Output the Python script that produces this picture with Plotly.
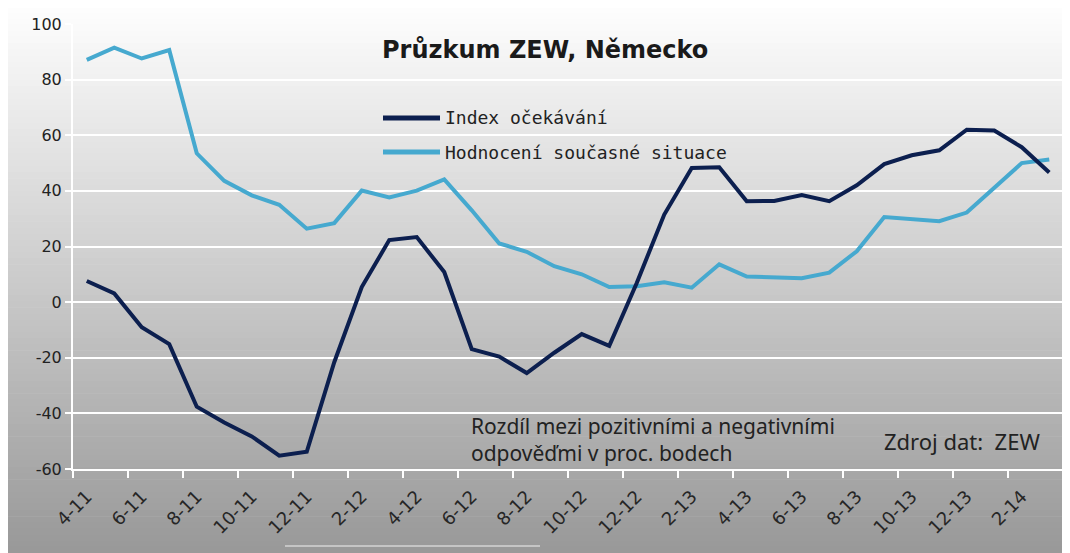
import plotly.graph_objects as go

# ---- data ----
months = ["4-11", "5-11", "6-11", "7-11", "8-11", "9-11", "10-11", "11-11", "12-11",
          "1-12", "2-12", "3-12", "4-12", "5-12", "6-12", "7-12", "8-12", "9-12",
          "10-12", "11-12", "12-12", "1-13", "2-13", "3-13", "4-13", "5-13", "6-13",
          "7-13", "8-13", "9-13", "10-13", "11-13", "12-13", "1-14", "2-14", "3-14"]

expectations = [7.6, 3.1, -9.0, -15.1, -37.6, -43.3, -48.3, -55.2, -53.8,
                -21.6, 5.4, 22.3, 23.4, 10.8, -16.9, -19.6, -25.5, -18.2,
                -11.5, -15.7, 6.9, 31.5, 48.2, 48.5, 36.3, 36.4, 38.5,
                36.3, 42.0, 49.6, 52.8, 54.6, 62.0, 61.7, 55.7, 46.6]

current = [87.1, 91.5, 87.6, 90.6, 53.5, 43.6, 38.4, 35.0, 26.4,
           28.4, 40.1, 37.6, 40.1, 44.1, 33.0, 21.1, 18.1, 12.9,
           10.0, 5.4, 5.7, 7.1, 5.2, 13.6, 9.2, 8.9, 8.6,
           10.6, 18.3, 30.6, 29.7, 29.1, 32.2, 41.2, 50.0, 51.3]

y_ticks = [-60, -40, -20, 0, 20, 40, 60, 80, 100]

series_names = ["Index očekávání", "Hodnocení současné situace"]
series_colors = ["#0c1f4f", "#46a9cf"]

title_text = "Průzkum ZEW, Německo"
note_lines = ["Rozdíl mezi pozitivními a negativními", "odpověďmi v proc. bodech"]
source_text = "Zdroj dat:  ZEW"

# ---- geometry (screen pixels; page body adds an 8px offset) ----
PAGE_W, PAGE_H = 1070, 553
OFF = 8
W, H = PAGE_W - OFF, PAGE_H - OFF
L, R, T, B = 73, 1063, 24, 469   # plot area in screen pixels


def px_x(x):
    return (x - L) / (R - L)


def px_y(y):
    return (B - y) / (B - T)


idx = list(range(len(months)))

fig = go.Figure()
fig.add_trace(go.Scatter(x=idx, y=current, mode="lines", name=series_names[1],
                         line=dict(color=series_colors[1], width=4), showlegend=False))
fig.add_trace(go.Scatter(x=idx, y=expectations, mode="lines", name=series_names[0],
                         line=dict(color=series_colors[0], width=4), showlegend=False))

shapes = []
# vertical gradient background
n = 90
for i in range(n):
    y0p = i * PAGE_H / n
    y1p = (i + 1) * PAGE_H / n + 0.6
    frac = (i + 0.5) / n
    v = int(round(255 - (255 - 152) * frac))
    shapes.append(dict(type="rect", xref="paper", yref="paper", layer="below",
                       x0=px_x(0), x1=px_x(PAGE_W), y0=px_y(y1p), y1=px_y(y0p),
                       fillcolor=f"rgb({v},{v},{v})", line=dict(width=0)))

# manual legend
for k, yy in enumerate([118, 152]):
    shapes.append(dict(type="line", xref="paper", yref="paper",
                       x0=px_x(383), x1=px_x(440), y0=px_y(yy), y1=px_y(yy),
                       line=dict(color=series_colors[k], width=5)))

# faint artefact line at the bottom
shapes.append(dict(type="line", xref="paper", yref="paper",
                   x0=px_x(285), x1=px_x(540), y0=px_y(546), y1=px_y(546),
                   line=dict(color="rgba(215,215,215,0.7)", width=2)))

annotations = [
    dict(text=f"<b>{title_text}</b>", xref="paper", yref="paper", x=px_x(545), y=px_y(50),
         xanchor="center", yanchor="middle", showarrow=False,
         font=dict(family="DejaVu Sans", size=24, color="#1a1a1a")),
    dict(text=series_names[0], xref="paper", yref="paper", x=px_x(443), y=px_y(118),
         xanchor="left", yanchor="middle", showarrow=False,
         font=dict(family="DejaVu Sans Mono", size=18, color="#222222")),
    dict(text=series_names[1], xref="paper", yref="paper", x=px_x(443), y=px_y(152),
         xanchor="left", yanchor="middle", showarrow=False,
         font=dict(family="DejaVu Sans Mono", size=18, color="#222222")),
    dict(text="<br>".join(note_lines), xref="paper", yref="paper", x=px_x(469), y=px_y(439),
         xanchor="left", yanchor="middle", align="left", showarrow=False,
         font=dict(family="Noto Sans", size=21, color="#222222")),
    dict(text=source_text, xref="paper", yref="paper", x=px_x(882), y=px_y(441),
         xanchor="left", yanchor="middle", showarrow=False,
         font=dict(family="Noto Sans", size=22, color="#222222")),
]

fig.update_layout(
    width=W, height=H,
    margin=dict(l=L - OFF, r=PAGE_W - R, t=T - OFF, b=PAGE_H - B, autoexpand=False),
    paper_bgcolor="white",
    plot_bgcolor="rgba(0,0,0,0)",
    shapes=shapes,
    annotations=annotations,
    showlegend=False,
    xaxis=dict(
        automargin=False,
        range=[-0.5, len(months) - 0.5],
        tickmode="array",
        tickvals=idx[::2],
        ticktext=months[::2],
        tickangle=-45,
        ticks="outside", ticklen=8, tickcolor="rgba(0,0,0,0)",
        tickfont=dict(family="DejaVu Sans", size=18, color="#262626"),
        showgrid=False, zeroline=False,
        showline=True, linecolor="white", linewidth=2,
        minor=dict(tickmode="array", tickvals=[i - 0.5 for i in idx[::2]],
                   ticks="outside", ticklen=7, tickwidth=2, tickcolor="white",
                   showgrid=False),
    ),
    yaxis=dict(
        automargin=False,
        range=[-60, 100],
        tickmode="array", tickvals=y_ticks, ticktext=[str(v) for v in y_ticks],
        tickfont=dict(family="DejaVu Sans", size=16, color="#222222"),
        ticks="outside", ticklen=6, tickwidth=2, tickcolor="white",
        showgrid=True, gridcolor="white", gridwidth=2,
        zeroline=True, zerolinecolor="white", zerolinewidth=2,
        showline=True, linecolor="white", linewidth=2, mirror=True,
    ),
)

fig.write_html("out.html")
